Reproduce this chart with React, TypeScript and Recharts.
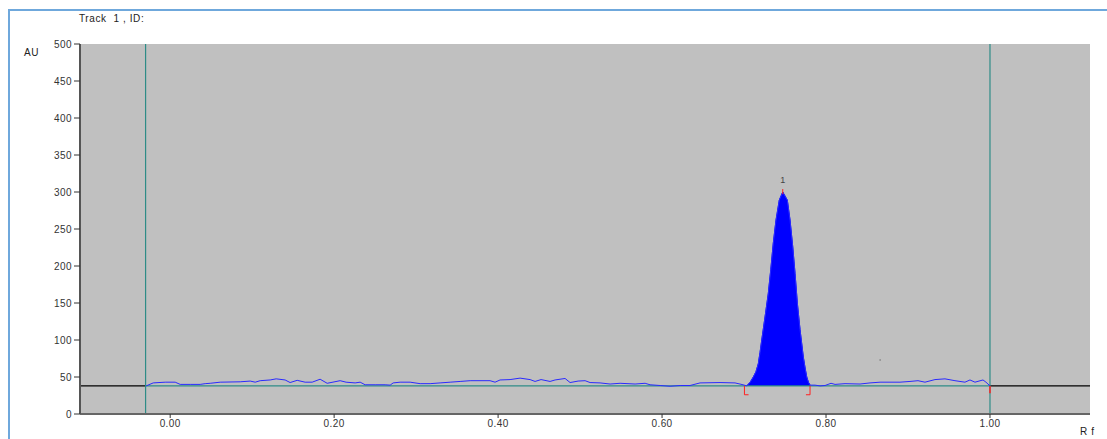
import React from 'react';
import {
  ComposedChart,
  Line,
  Area,
  XAxis,
  YAxis,
  ReferenceLine,
  ReferenceArea,
  ReferenceDot,
} from 'recharts';

// baseline trace (Rf, AU)
const baseRf = [
  -0.0293, -0.0207, -0.0061, 0.0061, 0.0122, 0.0244, 0.0366, 0.0427, 0.0488, 0.061,
  0.0854, 0.0976, 0.1037, 0.1098, 0.122, 0.1293, 0.1402, 0.1463, 0.1549, 0.1646,
  0.1732, 0.1829, 0.1915, 0.2073, 0.2146, 0.2256, 0.2317, 0.2378, 0.25, 0.2622,
  0.2683, 0.272, 0.2805, 0.2927, 0.3049, 0.3171, 0.3293, 0.3415, 0.3537, 0.3659,
  0.3902, 0.3963, 0.4024, 0.4146, 0.4268, 0.439, 0.4451, 0.4524, 0.4634, 0.4695,
  0.4817, 0.4878, 0.4976, 0.5061, 0.5122, 0.5244, 0.5366, 0.5488, 0.5671, 0.5793,
  0.5854, 0.5976, 0.6098, 0.622, 0.6341, 0.6463, 0.6707, 0.689, 0.6988,
];
const baseAu = [
  38, 42, 43, 43, 40, 40, 40, 41, 41.5, 43,
  43.5, 44.5, 43, 45, 46, 47.5, 46, 42.5, 45.5, 43,
  43, 47, 41.5, 45, 43, 42, 43, 39.5, 39.5, 39.5,
  39, 42, 43, 43, 41, 41, 42, 43, 44, 45,
  45, 43, 46, 46.5, 48.5, 46.5, 44, 46.5, 44, 46,
  48, 42.5, 44.5, 45, 42.5, 42, 40.5, 41.5, 40.5, 41.5,
  39.5, 38.5, 37.5, 38.5, 38.5, 42, 42.5, 42, 39.5,
];

// peak 1
const peakRf = [
  0.7033, 0.7075, 0.7113, 0.7145, 0.7174, 0.7195, 0.7216, 0.7256, 0.7296, 0.7326,
  0.7357, 0.739, 0.743, 0.7472, 0.7528, 0.7561, 0.7594, 0.7622, 0.765, 0.7683,
  0.7723, 0.7745, 0.7765, 0.7785, 0.7805,
];
const peakAu = [
  38, 43, 50, 57, 68, 83, 100, 131, 163, 195,
  231, 262, 289, 300, 289, 262, 226, 190, 150, 114,
  77, 62, 50, 43, 39,
];

// tail after the peak
const tailRf = [
  0.7866, 0.7927, 0.7988, 0.8061, 0.811, 0.8232, 0.8415, 0.8537, 0.8659, 0.878,
  0.8902, 0.9024, 0.9122, 0.9207, 0.9329, 0.9451, 0.9573, 0.9695, 0.9756, 0.9817,
  0.9915, 0.9951, 1.0,
];
const tailAu = [
  39, 38, 38.5, 41.5, 40, 41, 40.5, 42, 43, 43,
  43, 44, 45, 43, 46.5, 47.5, 45, 43, 46, 43,
  46, 43, 38,
];

const yTicks = [0, 50, 100, 150, 200, 250, 300, 350, 400, 450, 500];
const xTicks = [0, 0.2, 0.4, 0.6, 0.8, 1.0];
const xMin = -0.11;
const xMax = 1.122;
const baseline = 38;
const trackStart = -0.03;
const trackEnd = 1.0;
const peakStart = 0.7005;
const peakEnd = 0.7805;
const peakTop = 0.7472;
const peakMax = 300;

const toPts = (rf: number[], au: number[]) => rf.map((x, i) => ({ rf: x, au: au[i] }));
const peakData = toPts(peakRf, peakAu);
const traceData = [...toPts(baseRf, baseAu), ...peakData, ...toPts(tailRf, tailAu)];
const startLine = toPts([trackStart, trackStart], [0, 500]);
const endLine = toPts([trackEnd, trackEnd], [0, 500]);
const tealBase = toPts([trackStart, trackEnd], [baseline, baseline]);
const blackLeft = toPts([xMin, trackStart], [baseline, baseline]);
const blackRight = toPts([trackEnd, xMax], [baseline, baseline]);

const font = '"Liberation Sans", Arial, sans-serif';
const tickStyle = { fontSize: 10, fill: '#333', fontFamily: font, letterSpacing: 0.4 };
const teal = '#2e8c87';
const red = '#ff2020';
const txt = { position: 'absolute' as const, fontSize: 10, color: '#222', letterSpacing: 0.6 };

export default function App() {
  return (
    <div style={{ position: 'absolute', left: 0, top: 0, width: 1107, height: 439, background: '#fff', fontFamily: font }}>
      <div style={{ position: 'absolute', left: 8, top: 9, right: 0, bottom: 0, borderTop: '2px solid #6fa8dc', borderLeft: '2px solid #6fa8dc' }} />
      <div style={{ ...txt, left: 79, top: 13 }}>Track&nbsp; 1 , ID:</div>
      <div style={{ ...txt, left: 24, top: 47 }}>AU</div>
      <div style={{ ...txt, left: 1080, top: 426 }}>R f</div>
      <ComposedChart
        width={1107}
        height={439}
        margin={{ top: 44, right: 17, left: 20, bottom: 0 }}
        style={{ position: 'absolute', left: 0, top: 0 }}
      >
        <XAxis
          dataKey="rf"
          type="number"
          domain={[xMin, xMax]}
          ticks={xTicks}
          allowDataOverflow
          height={25}
          tickSize={4}
          tickFormatter={(v: number) => v.toFixed(2)}
          tick={tickStyle}
          stroke="#666"
          axisLine={{ stroke: '#666', strokeWidth: 2 }}
          tickLine={{ stroke: '#333' }}
        />
        <YAxis
          type="number"
          domain={[0, 500]}
          ticks={yTicks}
          width={60}
          tickSize={6}
          tick={tickStyle}
          axisLine={{ stroke: '#555', strokeWidth: 2 }}
          tickLine={{ stroke: '#333' }}
        />
        <ReferenceArea x1={xMin} x2={xMax} y1={0} y2={500} fill="#c0c0c0" fillOpacity={1} stroke="none" />
        <Line data={blackLeft} dataKey="au" stroke="#000" strokeWidth={1.2} dot={false} isAnimationActive={false} />
        <Line data={blackRight} dataKey="au" stroke="#000" strokeWidth={1.2} dot={false} isAnimationActive={false} />
        <Line data={tealBase} dataKey="au" stroke={teal} strokeWidth={1.2} dot={false} isAnimationActive={false} />
        <Line data={startLine} dataKey="au" stroke={teal} strokeWidth={1.2} dot={false} isAnimationActive={false} />
        <Line data={endLine} dataKey="au" stroke={teal} strokeWidth={1.2} dot={false} isAnimationActive={false} />
        <Area
          data={peakData}
          dataKey="au"
          type="linear"
          baseValue={baseline}
          fill="#0000ff"
          fillOpacity={1}
          stroke="#0000ff"
          isAnimationActive={false}
        />
        <Line
          data={traceData}
          dataKey="au"
          type="linear"
          stroke="#2a2aff"
          strokeWidth={1}
          dot={false}
          isAnimationActive={false}
        />
        <ReferenceLine segment={[{ x: peakStart, y: baseline }, { x: peakStart, y: 26 }]} stroke={red} />
        <ReferenceLine segment={[{ x: peakStart, y: 26 }, { x: peakStart + 0.005, y: 26 }]} stroke={red} />
        <ReferenceLine segment={[{ x: peakEnd, y: baseline }, { x: peakEnd, y: 26 }]} stroke={red} />
        <ReferenceLine segment={[{ x: peakEnd - 0.005, y: 26 }, { x: peakEnd, y: 26 }]} stroke={red} />
        <ReferenceLine segment={[{ x: peakTop, y: peakMax - 3 }, { x: peakTop, y: peakMax + 4 }]} stroke={red} />
        <ReferenceLine segment={[{ x: trackEnd, y: baseline }, { x: trackEnd, y: 28 }]} stroke={red} strokeWidth={1.5} />
        <ReferenceDot
          x={peakTop}
          y={peakMax}
          r={0}
          stroke="none"
          label={{ value: '1', position: 'top', offset: 9, fontSize: 9, fill: '#444', fontFamily: font }}
        />
        <ReferenceDot x={0.866} y={73} r={0.8} fill="#777" stroke="none" />
      </ComposedChart>
    </div>
  );
}
